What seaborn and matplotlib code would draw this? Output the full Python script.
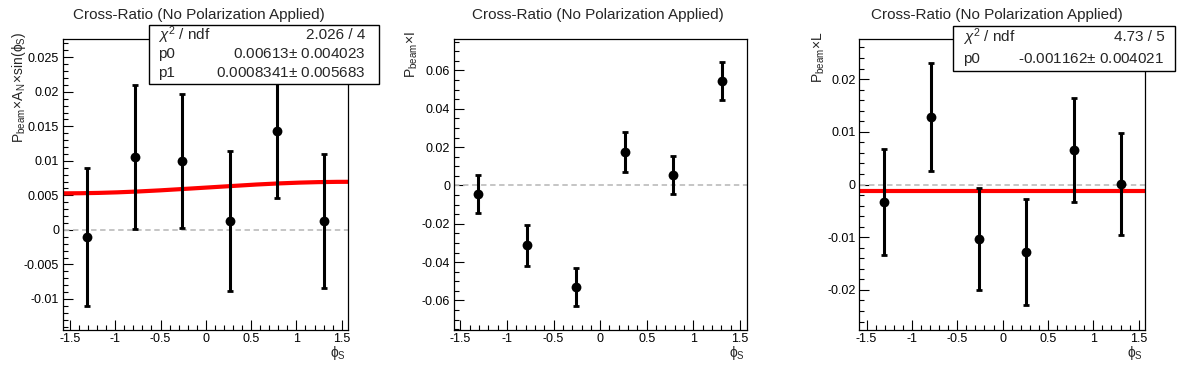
import numpy as np
import matplotlib
matplotlib.use('Agg')
import matplotlib.pyplot as plt
from matplotlib.patches import Rectangle
from matplotlib.ticker import MultipleLocator
import seaborn as sns

# bin centres in phi_S (6 bins over -pi/2..pi/2)
phi_s = [-1.309, -0.785, -0.262, 0.262, 0.785, 1.309]

# P_beam x A_N x sin(phi_S)
an_vals = [-0.00106, 0.01053, 0.00996, 0.00126, 0.0143, 0.00126]
an_errs = [0.0100, 0.0104, 0.0097, 0.0101, 0.0097, 0.0097]

# P_beam x I
i_vals = [-0.0045, -0.0311, -0.0531, 0.0174, 0.0054, 0.0545]
i_errs = [0.0100, 0.0107, 0.0099, 0.0104, 0.0100, 0.0097]

# P_beam x L
l_vals = [-0.00334, 0.0128, -0.01036, -0.01283, 0.00653, 0.00008]
l_errs = [0.0101, 0.0103, 0.0097, 0.0101, 0.0099, 0.0097]

# fit results (p0 + p1*sin(phi) and constant p0)
an_fit = [0.00613, 0.0008341]
l_fit = [-0.001162]

an_stats = [("$\\chi^{2}$ / ndf", "2.026 / 4"),
            ("p0", "0.00613$\\pm$ 0.004023"),
            ("p1", "0.0008341$\\pm$ 0.005683")]
l_stats = [("$\\chi^{2}$ / ndf", "4.73 / 5"),
           ("p0", "-0.001162$\\pm$ 0.004021")]

title = "Cross-Ratio (No Polarization Applied)"
ylabels = [r"$\mathregular{P_{beam}\!\times\! A_{N}\!\times\! sin(\phi_{S})}$",
           r"$\mathregular{P_{beam}\!\times\! I}$",
           r"$\mathregular{P_{beam}\!\times\! L}$"]

sns.set_style("white")
plt.rcParams['font.family'] = ['Liberation Sans', 'DejaVu Sans']
plt.rcParams['mathtext.fontset'] = 'custom'
plt.rcParams['mathtext.rm'] = 'Liberation Sans'
plt.rcParams['mathtext.it'] = 'Liberation Sans:italic'
plt.rcParams['mathtext.sf'] = 'Liberation Sans'

W, H = 1196, 372
fig = plt.figure(figsize=(W / 100, H / 100), dpi=100)
fig.patch.set_facecolor('white')


def px_axes(l, r, t, b):
    return fig.add_axes([l / W, 1 - b / H, (r - l) / W, (b - t) / H])


def tick_fmt(v, pos):
    return "0" if abs(v) < 1e-9 else "%g" % v


panels = [
    dict(box=(62.7, 348.3, 39, 330), xlim=(-1.58, 1.573), ylim=(-0.0145, 0.02765),
         vals=an_vals, errs=an_errs, major=0.005, minor=0.001, pad_c=199, ylx=19),
    dict(box=(453.7, 746.7, 39, 330), xlim=(-1.571, 1.572), ylim=(-0.0754, 0.0764),
         vals=i_vals, errs=i_errs, major=0.02, minor=0.005, pad_c=598, ylx=412),
    dict(box=(859.3, 1145.3, 39, 330), xlim=(-1.58, 1.573), ylim=(-0.0276, 0.0276),
         vals=l_vals, errs=l_errs, major=0.01, minor=0.002, pad_c=997, ylx=819),
]

axes = []
for k, p in enumerate(panels):
    l, r, t, b = p['box']
    ax = px_axes(l, r, t, b)
    axes.append(ax)
    ax.set_xlim(*p['xlim'])
    ax.set_ylim(*p['ylim'])

    # zero line
    ax.hlines(0, -np.pi / 2, np.pi / 2, colors='#c0c0c0', linestyles=(0, (3, 2)),
              linewidth=1.3, zorder=1)

    # error bars + markers
    ax.errorbar(phi_s, p['vals'], yerr=p['errs'], fmt='none', ecolor='black',
                elinewidth=2.2, capsize=2, capthick=2, zorder=3)
    sns.scatterplot(x=phi_s, y=p['vals'], ax=ax, color='black', s=50,
                    edgecolor='black', linewidth=0, zorder=4)

    ax.xaxis.set_major_locator(MultipleLocator(0.5))
    ax.xaxis.set_minor_locator(MultipleLocator(0.1))
    ax.yaxis.set_major_locator(MultipleLocator(p['major']))
    ax.yaxis.set_minor_locator(MultipleLocator(p['minor']))
    ax.tick_params(which='both', direction='in', bottom=True, left=True, top=False,
                   right=False, labelsize=9, colors='black', width=0.8, pad=2.5)
    ax.tick_params(which='major', length=7)
    ax.tick_params(which='minor', length=3.5)
    ax.xaxis.set_major_formatter(plt.FuncFormatter(tick_fmt))
    ax.yaxis.set_major_formatter(plt.FuncFormatter(tick_fmt))
    for s in ax.spines.values():
        s.set_visible(True)
        s.set_color('black')
        s.set_linewidth(0.9)

    fig.text(p['pad_c'] / W, 1 - 15 / H, title, ha='center', va='center', fontsize=11)
    fig.text(p['ylx'] / W, 1 - 31 / H, ylabels[k], rotation=90, ha='center', va='top',
             fontsize=10)
    fig.text((r - 2) / W, 1 - 344 / H, r"$\mathregular{\phi_{S}}$", ha='right', va='top',
             fontsize=10)

# fit curves
grid = np.linspace(-1.58, 1.573, 200)
sns.lineplot(x=grid, y=an_fit[0] + an_fit[1] * np.sin(grid), ax=axes[0],
             color='red', linewidth=3, zorder=2)
sns.lineplot(x=grid, y=np.full_like(grid, l_fit[0]), ax=axes[2],
             color='red', linewidth=3, zorder=2)


def stat_box(l, r, t, b, rows, row_y, lpad, rpad):
    fig.patches.append(Rectangle((l / W, 1 - b / H), (r - l) / W, (b - t) / H,
                                 transform=fig.transFigure, facecolor='white',
                                 edgecolor='black', linewidth=1, zorder=10))
    for (name, val), y in zip(rows, row_y):
        fig.text((l + lpad) / W, 1 - y / H, name, ha='left', va='center', fontsize=11, zorder=11)
        fig.text((r - rpad) / W, 1 - y / H, val, ha='right', va='center', fontsize=11, zorder=11)


stat_box(149, 379.3, 25, 84, an_stats, [35, 54.3, 73], 9, 14)
stat_box(952.7, 1175.3, 26, 70.7, l_stats, [36.7, 59.3], 10, 11)

fig.savefig('out.png', dpi=100)
